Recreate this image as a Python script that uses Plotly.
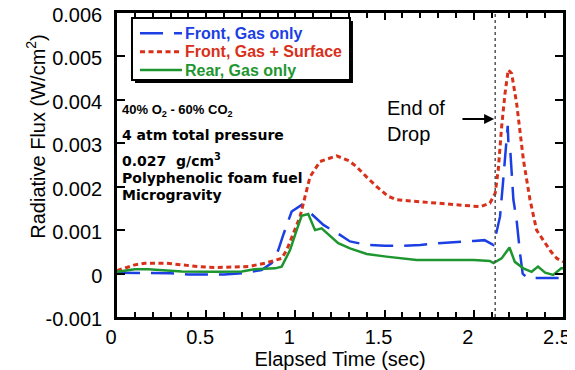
import plotly.graph_objects as go

# Elapsed time (sec) and radiative flux (W/cm^2)
t_front_gas = [0, 0.1, 0.2, 0.3, 0.4, 0.5, 0.6, 0.7, 0.81, 0.867, 0.904, 0.932, 0.979, 1.035,
               1.157, 1.25, 1.306, 1.4, 1.5, 1.6, 1.7, 1.8, 1.9, 2.0, 2.06, 2.109, 2.128,
               2.147, 2.165, 2.19, 2.195, 2.205, 2.222, 2.24, 2.259, 2.274, 2.3, 2.4, 2.5]
q_front_gas = [0.00002, 0.00002, 0.00002, 0.00001, -0.00002, -0.00002, -0.00002, 0.00001,
               0.00008, 0.00024, 0.00054, 0.00089, 0.00143, 0.00158, 0.00112, 0.00089,
               0.00074, 0.00066, 0.00064, 0.00064, 0.00066, 0.0007, 0.00072, 0.00075,
               0.00077, 0.00066, 0.00097, 0.00131, 0.00216, 0.0034, 0.0029, 0.0028,
               0.0017, 0.00123, 0.00047, 0.0, -0.0001, -0.0001, -0.0001]

t_front_surf = [0, 0.05, 0.1, 0.157, 0.27, 0.363, 0.456, 0.55, 0.736, 0.83, 0.923, 0.951,
                0.988, 1.026, 1.054, 1.082, 1.138, 1.231, 1.3, 1.343, 1.4, 1.456, 1.52,
                1.568, 1.68, 1.79, 1.885, 2.035, 2.09, 2.12, 2.137, 2.156, 2.175, 2.193,
                2.212, 2.24, 2.278, 2.315, 2.352, 2.39, 2.43, 2.465, 2.5]
q_front_surf = [0.00007, 0.00013, 0.0002, 0.00024, 0.00024, 0.0002, 0.00016, 0.00014,
                0.00016, 0.00024, 0.00035, 0.00054, 0.00093, 0.00131, 0.00177, 0.00223,
                0.00258, 0.00271, 0.0026, 0.00246, 0.00222, 0.002, 0.00178, 0.0017,
                0.00166, 0.00162, 0.0016, 0.00154, 0.00162, 0.00185, 0.00239, 0.00338,
                0.00415, 0.00469, 0.00461, 0.00392, 0.00262, 0.0017, 0.001, 0.00077,
                0.00052, 0.00035, 0.00027]

t_rear_gas = [0, 0.045, 0.1, 0.175, 0.363, 0.55, 0.7, 0.77, 0.886, 0.923, 0.97, 1.007,
              1.035, 1.072, 1.11, 1.147, 1.24, 1.306, 1.4, 1.51, 1.605, 1.68, 1.8, 2.0,
              2.09, 2.11, 2.156, 2.2, 2.23, 2.278, 2.324, 2.36, 2.4, 2.445, 2.49, 2.5]
q_rear_gas = [0.00004, 0.00007, 0.0001, 0.0001, 0.00005, 0.00004, 0.00005, 0.0001,
              0.00012, 0.00016, 0.00054, 0.001, 0.00133, 0.00137, 0.001, 0.00104,
              0.0007, 0.00058, 0.00045, 0.00039, 0.00034, 0.00031, 0.00031, 0.00031,
              0.00029, 0.00024, 0.00035, 0.0006, 0.00027, 0.00012, 0.00004, 0.00016,
              0.00002, -0.00003, 0.00012, 0.00012]

series_names = ["Front, Gas only", "Front, Gas + Surface", "Rear, Gas only"]
end_of_drop = 2.12

x_ticks = [0, 0.5, 1, 1.5, 2, 2.5]
x_labels = ["0", "0.5", "1", "1.5", "2", "2.5"]
y_ticks = [-0.001, 0, 0.001, 0.002, 0.003, 0.004, 0.005, 0.006]
y_labels = ["-0.001", "0", "0.001", "0.002", "0.003", "0.004", "0.005", "0.006"]

BLUE = "#1b3fe3"
RED = "#d9301a"
GREEN = "#1e9630"
FONT = "Liberation Sans, Arial, sans-serif"
styles = [dict(color=BLUE, width=2.5, dash="23px,11px"),
          dict(color=RED, width=3, dash="5px,3.5px"),
          dict(color=GREEN, width=2.5)]

fig = go.Figure()
for (tx, qy), name, st in zip([(t_front_gas, q_front_gas), (t_front_surf, q_front_surf),
                               (t_rear_gas, q_rear_gas)], series_names, styles):
    fig.add_trace(go.Scatter(x=tx, y=qy, mode="lines", name=name, line=st, showlegend=False))

# end of drop marker
fig.add_shape(type="line", x0=end_of_drop, x1=end_of_drop, y0=0, y1=1,
              xref="x", yref="paper", line=dict(color="#555555", width=1.5, dash="dot"))
fig.add_annotation(x=end_of_drop - 0.006, y=0.00356, ax=1.928, ay=0.00356,
                   xref="x", yref="y", axref="x", ayref="y", text="",
                   showarrow=True, arrowhead=2, arrowsize=1, arrowwidth=2, arrowcolor="black")
fig.add_annotation(x=1.502, y=0.00352, xref="x", yref="y", xanchor="left", yanchor="middle",
                   text="End of<br>Drop", showarrow=False, align="left",
                   font=dict(family=FONT, size=20, color="black"))

# conditions text
notes = [
    ("40% O<sub>2</sub> - 60% CO<sub>2</sub>", 0.00375, 13, FONT),
    ("4 atm total pressure", 0.00319, 14, "DejaVu Sans"),
    ("0.027  g/cm<sup>3</sup>", 0.00261, 14, "DejaVu Sans"),
    ("Polyphenolic foam fuel", 0.00219, 14, "DejaVu Sans"),
    ("Microgravity", 0.0018, 14, "DejaVu Sans"),
]
for txt, yv, sz, fam in notes:
    fig.add_annotation(x=0.015, y=yv, xref="x", yref="y", xanchor="left", yanchor="middle",
                       text="<b>%s</b>" % txt, showarrow=False,
                       font=dict(family=fam, size=sz, color="black"))

# legend box with drop shadow (paper coordinates)
fig.add_shape(type="rect", xref="paper", yref="paper", x0=0.0404, x1=0.5291, y0=0.7697, y1=0.9737,
              fillcolor="black", line=dict(width=0), layer="above")
fig.add_shape(type="rect", xref="paper", yref="paper", x0=0.0336, x1=0.5224, y0=0.7796, y1=0.9836,
              fillcolor="white", line=dict(color="black", width=2), layer="above")
row_y = [0.9332, 0.8727, 0.8125]
for name, st, ry in zip(series_names, styles, row_y):
    fig.add_shape(type="line", xref="paper", yref="paper", x0=0.0516, x1=0.1457, y0=ry, y1=ry,
                  line=st, layer="above")
    fig.add_annotation(x=0.148, y=ry, xref="paper", yref="paper", xanchor="left", yanchor="middle",
                       text="<b>%s</b>" % name, showarrow=False,
                       font=dict(family=FONT, size=16, color=st["color"]))

# y axis title, placed a little above centre as in the original
fig.add_annotation(x=-0.215, y=0.595, xref="paper", yref="paper", textangle=-90,
                   text="Radiative Flux (W/cm<sup>2</sup>)", showarrow=False,
                   font=dict(family=FONT, size=20, color="black"))

# page body adds an 8px margin, so the figure is sized to fit inside the window
fig.update_layout(
    width=567, height=362,
    margin=dict(l=109, r=12, t=5, b=53),
    paper_bgcolor="white", plot_bgcolor="white",
    font=dict(family=FONT, size=20, color="black"),
    showlegend=False,
    xaxis=dict(range=[0, 2.5], tickvals=x_ticks, ticktext=x_labels, automargin=False,
               ticks="inside", ticklen=7, tickwidth=1.5, tickcolor="black",
               minor=dict(dtick=0.1, ticks="inside", ticklen=5, tickcolor="black", tickwidth=1.5),
               showline=True, linewidth=2.5, linecolor="black", mirror="ticks",
               showgrid=False, zeroline=False, ticklabeloverflow="allow", ticklabelshift=-6,
               title=dict(text="Elapsed Time (sec)", standoff=6, font=dict(size=20))),
    yaxis=dict(range=[-0.001, 0.006], tickvals=y_ticks, ticktext=y_labels, automargin=False,
               ticks="inside", ticklen=8, tickwidth=1.5, tickcolor="black",
               showline=True, linewidth=2.5, linecolor="black", mirror="ticks",
               showgrid=False, zeroline=False, ticklabelstandoff=8, ticklabeloverflow="allow",
               ticklabelshift=2),
)

fig.write_html("out.html")
